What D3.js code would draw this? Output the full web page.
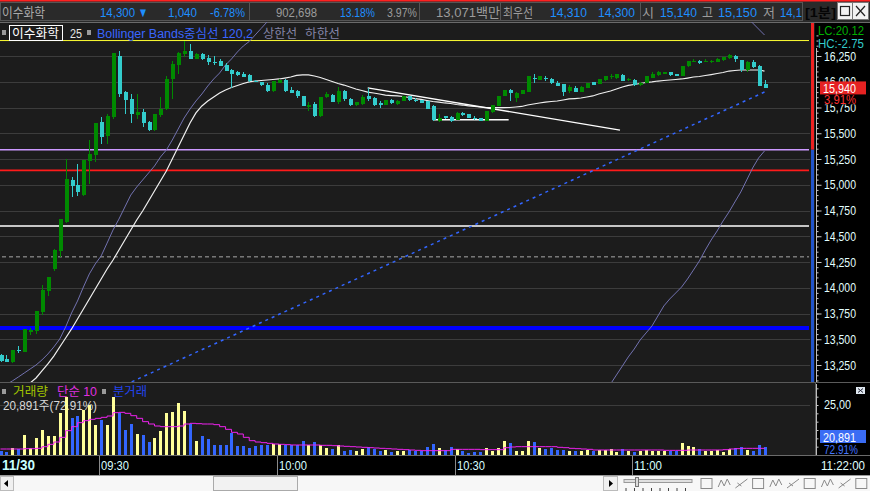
<!DOCTYPE html>
<html>
<head>
<meta charset="utf-8">
<script src="https://cdn.jsdelivr.net/npm/d3@7"></script>
<style>
  body { margin: 0; background: #1c1c1c; overflow: hidden; }
  svg { display: block; }
  text { font-family: "Liberation Sans", "Noto Sans CJK KR", sans-serif; }
</style>
</head>
<body>
<div id="chart"></div>
<script>
// ---- data (1-minute candles, 11/30 09:13 .. 11:22) ----
const opens = [13350,13310,13280,13400,13380,13570,13580,13760,13970,14180,
  14360,14640,15050,15000,14900,15230,15290,15610,15470,15660,
  16250,15900,15830,15680,15710,15610,15530,15680,15740,16030,
  16160,16270,16300,16220,16270,16230,16190,16200,16160,16110,
  16090,16080,16070,16010,16000,15970,15910,15990,16020,15920,
  15910,15860,15760,15780,15670,15850,15870,15800,15910,15830,
  15770,15780,15860,15840,15790,15770,15820,15780,15810,15860,
  15820,15820,15810,15760,15620,15670,15660,15630,15700,15690,
  15650,15650,15620,15710,15760,15860,15920,15840,15880,15900,
  16040,16020,16040,16030,15990,15980,15910,15940,15900,15940,
  16000,15980,16020,16050,16040,16070,16020,16020,15970,15990,
  16040,16070,16080,16090,16080,16060,16150,16190,16200,16190,
  16190,16190,16210,16230,16250,16210,16110,16190,16150,15980];
const highs = [13360,13350,13400,13430,13600,13610,13770,14030,14100,14380,
  14670,15250,15080,15200,15240,15430,15600,15660,15690,16280,
  16300,15910,15880,15880,15740,15620,15690,15850,16060,16200,
  16290,16400,16370,16280,16280,16260,16250,16220,16180,16120,
  16100,16090,16080,16020,16000,15990,16010,16030,16030,15950,
  15920,15860,15800,15800,15850,15900,15880,15950,15920,15840,
  15800,15870,15940,15850,15810,15820,15830,15820,15860,15860,
  15840,15820,15810,15770,15690,15670,15670,15710,15710,15690,
  15670,15650,15720,15770,15860,15920,15930,15900,15920,16060,
  16080,16060,16060,16040,16010,15980,15970,15960,15960,15990,
  16000,16030,16060,16080,16080,16080,16040,16030,16000,16060,
  16090,16100,16090,16090,16080,16150,16200,16220,16210,16220,
  16210,16230,16240,16270,16260,16210,16200,16210,16160,16020];
const lows = [13280,13280,13270,13370,13380,13540,13550,13740,13920,14160,
  14300,14630,14880,14890,14890,15010,15220,15400,15400,15640,
  15850,15690,15600,15640,15560,15520,15520,15660,15730,15830,
  16080,16240,16220,16220,16210,16160,16160,16150,16100,15940,
  16060,16050,16000,16000,15960,15900,15900,15990,15900,15890,
  15840,15760,15720,15660,15660,15840,15800,15780,15810,15760,
  15760,15770,15810,15760,15750,15770,15780,15770,15810,15810,
  15800,15790,15740,15620,15610,15640,15610,15630,15670,15650,
  15630,15620,15620,15700,15760,15860,15810,15800,15880,15900,
  15990,16020,16010,15980,15960,15860,15890,15900,15900,15940,
  15970,15980,16010,16030,16030,16010,16010,15960,15960,15990,
  16040,16060,16080,16060,16060,16060,16140,16190,16170,16190,
  16180,16190,16200,16220,16190,16090,16090,16130,15960,15940];
const closes = [13290,13280,13400,13390,13600,13590,13770,13980,14100,14370,
  14670,15060,14990,14930,15240,15300,15600,15460,15670,16280,
  15880,15820,15690,15710,15600,15530,15690,15740,16030,16170,
  16280,16300,16220,16270,16220,16190,16180,16150,16100,16080,
  16070,16050,16010,16000,15970,15910,16010,16020,15910,15890,
  15860,15760,15770,15670,15850,15880,15800,15910,15830,15770,
  15800,15850,15830,15770,15780,15820,15790,15810,15860,15820,
  15810,15790,15740,15630,15650,15650,15620,15700,15680,15650,
  15640,15620,15720,15770,15860,15920,15890,15890,15920,16060,
  16030,16060,16030,15990,15960,15900,15950,15900,15950,15990,
  15970,16030,16060,16060,16080,16010,16030,15970,15990,16060,
  16080,16090,16090,16070,16060,16150,16200,16200,16180,16200,
  16200,16220,16240,16260,16220,16110,16190,16140,15960,15940];
const volumes = [2000,1650,3350,2850,10000,3650,8350,12500,9500,9500,
  21150,28850,18350,19500,22500,25000,15000,17500,15000,29150,
  21150,12500,15500,10500,10000,6650,8350,12000,21150,21650,
  25850,22150,15500,7150,9500,7850,5000,5000,5000,11150,
  4500,4500,3350,4500,5000,5000,5500,5500,5000,5000,
  5000,7000,5000,6500,5000,3650,3150,5000,2150,2500,
  2000,3000,3850,2850,2000,2500,1650,2000,2000,2500,
  2000,2000,4150,5500,3500,2500,4150,3000,2150,1150,
  1500,1500,3350,2150,3500,7000,6150,2150,2150,7000,
  6500,3350,3150,3500,2500,2500,1850,2150,2150,2500,
  2150,2500,2500,3000,1650,3000,2150,1650,1850,2500,
  2150,2150,1850,2150,1850,6150,4650,4000,2850,2150,
  2150,2500,1500,3000,3500,4000,2500,2000,5150,4000];
// 단순 10 (volume moving average) as drawn
const volMA10 = [3000,3000,3000,3000,3170,3170,3330,4170,5330,6500,
  8830,12170,14170,16170,17170,17830,18330,18830,19500,21170,
  21330,20830,19670,18330,16670,15500,14500,14170,14170,14170,
  14500,15500,15830,15670,15500,15500,15170,14170,12830,11330,
  10500,8830,7170,6500,6170,5830,5500,5330,5170,5000,
  5000,5000,5000,5000,4830,4830,4670,4500,4330,4170,
  4000,3830,3670,3500,3330,3170,3000,2830,2670,2500,
  2330,2170,2170,2170,2170,2170,2830,2830,2830,2830,
  2830,2670,2670,2670,2670,3670,4000,4170,4170,4170,
  4170,4170,4170,4170,3830,3670,3330,3170,3000,2830,
  2500,2500,2500,2500,2500,2500,2500,2500,2500,2500,
  2500,2500,2330,2330,2330,2330,2500,2500,2500,2500,
  2500,2500,2670,3000,3170,3330,3330,3330,3330,3500];
// Bollinger Bands 120,2 as drawn (parts outside the view are clipped)
const bbMid = [12900,12940,12980,13010,13045,13075,13124,13192,13260,13337,
  13425,13512,13600,13697,13794,13891,13988,14085,14182,14269,
  14366,14464,14561,14658,14745,14842,14939,15036,15133,15250,
  15366,15483,15600,15697,15765,15813,15852,15891,15920,15944,
  15964,15983,15998,16007,16012,16017,16022,16027,16036,16046,
  16061,16066,16066,16056,16041,16022,16002,15983,15968,15949,
  15930,15915,15900,15891,15881,15871,15866,15862,15857,15847,
  15837,15828,15818,15808,15803,15794,15789,15779,15774,15765,
  15760,15755,15750,15748,15748,15748,15750,15755,15760,15774,
  15784,15794,15803,15808,15813,15823,15833,15837,15842,15852,
  15862,15881,15896,15910,15930,15949,15964,15973,15983,15993,
  15998,16007,16012,16017,16022,16027,16036,16046,16051,16061,
  16070,16080,16090,16104,16109,16114,16114,16114,16114,16104];
const bbUpperLeft = [13020,13060,13095,13133,13172,13211,13250,13299,13357,13425,
  13502,13619,13755,13871,14007,14134,14231,14309,14434,14561,
  14667,14784,14900,14978,15046,15114,15182,15269,15337,15434,
  15541,15648,15735,15813,15881,15959,16027,16085,16163,16221,
  16289,16347,16391,16454,16517,16580,16643];          // index 0..46
const bbUpperRight = [16629,16570,16512,16454];       // index 126..129
const bbLower = [12978,13065,13153,13240,13328,13405,13493,13561,13629,13726,
  13823,13891,13949,14007,14085,14172,14260,14366,14464,14551,
  14648,14735,14833,14930,15046,15163,15260,15328];    // index 102..129

// horizontal reference prices: 고가, 전일종가, 시가, 기준, 현재가, 지지
const levels = [16400, 15340, 15140, 14600, 14300, 13610];
// user drawn lines [index, price]
const trendUp = [[20, 13030], [129, 15900]];
const trendDown = [[62, 15940], [104.6, 15530]];
const supportLine = [[73, 15630], [85.8, 15630]];

const priceTicks = [13250,13500,13750,14000,14250,14500,14750,15000,15250,15500,15750,16000,16250];
const timeTicks = ["09:30", "10:00", "10:30", "11:00"];
const startMinute = 9 * 60 + 13;
const dateLabel = "11/30", lastTime = "11:22:00";
const lastVolume = "20,891", lastVolPct = "72.91%", lastPct = "3.91%";

const header = [
  ["이수화학", 2, 43, "#a8a8a8"], ["14,300", 100, 35, "#1e8fff"], ["▼", 138, 10, "#1e8fff"],
  ["1,040", 168, 29, "#1e8fff"], ["-6.78%", 210, 35, "#1e8fff"], ["902,698", 276, 41, "#9c9c9c"],
  ["13.18%", 340, 35, "#1e8fff"], ["3.97%", 387, 30, "#9c9c9c"], ["13,071백만", 436, 64, "#9c9c9c"],
  ["최우선", 503, 30, "#9c9c9c"], ["14,310", 550, 37, "#1e8fff"], ["14,300", 598, 37, "#1e8fff"],
  ["시", 642, 12, "#9c9c9c"], ["15,140", 660, 37, "#1e8fff"], ["고", 702, 11, "#9c9c9c"],
  ["15,150", 718, 39, "#1e8fff"], ["저", 763, 12, "#9c9c9c"], ["14,1", 780, 22, "#1e8fff"]
];

// ---- layout ----
const W = 870, H = 491;
const svg = d3.select("#chart").append("svg").attr("width", W).attr("height", H);

const x = d3.scaleLinear().domain([0, opens.length - 1]).range([0.5, 764.5]);
const y = d3.scaleLinear().domain([13250, 16250]).range([365, 56]);
const yv = d3.scaleLinear().domain([0, 25000]).range([455, 405]);

function label(g, px, py, s, fill, size, len, weight) {
  const t = g.append("text").attr("x", px).attr("y", py).text(s)
    .attr("fill", fill).style("font-size", size + "px");
  if (len) t.attr("textLength", len).attr("lengthAdjust", "spacingAndGlyphs");
  if (weight) t.style("font-weight", weight);
  return t;
}
function hline(g, x1, x2, py, stroke, w) {
  return g.append("line").attr("x1", x1).attr("x2", x2).attr("y1", py).attr("y2", py)
    .attr("stroke", stroke).attr("stroke-width", w || 1);
}

// backgrounds
svg.append("rect").attr("width", W).attr("height", H).attr("fill", "#1c1c1c");
svg.append("rect").attr("x", 815).attr("y", 22).attr("width", 55).attr("height", 434).attr("fill", "#000");

const defs = svg.append("defs");
defs.append("clipPath").attr("id", "clipP").append("rect").attr("x", 0).attr("y", 22).attr("width", 809).attr("height", 360);
defs.append("clipPath").attr("id", "clipV").append("rect").attr("x", 0).attr("y", 384).attr("width", 809).attr("height", 71);
defs.append("clipPath").attr("id", "clipH").append("rect").attr("x", 0).attr("y", 0).attr("width", 803).attr("height", 22);

// ---- header ----
const hd = svg.append("g");
hd.append("rect").attr("width", W).attr("height", 22).attr("fill", "#2a2a2a");
hd.append("rect").attr("width", W).attr("height", 1.5).attr("fill", "#ff2020");
hd.append("rect").attr("x", 0.5).attr("y", 2.5).attr("width", 802).attr("height", 18)
  .attr("fill", "none").attr("stroke", "#555");
[249.5, 419.5, 500.5, 640.5].forEach(sx =>
  hd.append("line").attr("x1", sx).attr("x2", sx).attr("y1", 2.5).attr("y2", 20.5).attr("stroke", "#555"));
const hdText = hd.append("g").attr("clip-path", "url(#clipH)");
header.forEach(([s, px, len, c]) => label(hdText, px, 16.5, s, c, 13, len));
label(hd, 805, 16.5, "[1분]", "#050505", 13, 31, "bold");
hd.append("rect").attr("x", 837.5).attr("y", 2.5).attr("width", 15).attr("height", 17).attr("fill", "#f2f2f2").attr("stroke", "#777");
hd.append("rect").attr("x", 852.5).attr("y", 2.5).attr("width", 16).attr("height", 17).attr("fill", "#f2f2f2").attr("stroke", "#777");
hd.append("rect").attr("x", 840.5).attr("y", 6.5).attr("width", 9).attr("height", 9).attr("fill", "none").attr("stroke", "#222").attr("stroke-width", 1.2);
hd.append("path").attr("d", "M856,6 L865,16 M865,6 L856,16").attr("stroke", "#222").attr("stroke-width", 1.2);
hline(svg, 0, W, 22.5, "#6a6a6a");

// ---- price pane grid + levels ----
const grid = svg.append("g");
priceTicks.forEach(p => hline(grid, 0, 810, Math.round(y(p)) + 0.5, "#3c3c3c"));

const lv = svg.append("g").attr("clip-path", "url(#clipP)");
const levelStyle = [
  {c: "#ffff33", w: 1}, {c: "#cc99ff", w: 1.6}, {c: "#ff1a1a", w: 1.6},
  {c: "#ffffff", w: 1.6}, {c: "#a8a8a8", w: 1, dash: "4,3"}, {c: "#0000ff", w: 4}
];
levels.forEach((p, k) => {
  const l = hline(lv, 0, 809, y(p), levelStyle[k].c, levelStyle[k].w);
  if (levelStyle[k].dash) l.attr("stroke-dasharray", levelStyle[k].dash).attr("x1", 2);
});

// right red/blue range bar split at previous close
svg.append("rect").attr("x", 811).attr("y", 23).attr("width", 3).attr("height", y(levels[1]) - 23).attr("fill", "#ee2222");
svg.append("rect").attr("x", 811).attr("y", y(levels[1])).attr("width", 3).attr("height", 382 - y(levels[1])).attr("fill", "#2255cc");

// ---- legend (drawn under the lines) ----
const lg = svg.append("g");
lg.append("rect").attr("x", 2).attr("y", 30).attr("width", 4).attr("height", 5).attr("fill", "#9a9a9a");
lg.append("rect").attr("x", 9.5).attr("y", 25.5).attr("width", 53).attr("height", 15).attr("fill", "none").attr("stroke", "#fff");
label(lg, 12, 37.5, "이수화학", "#ffffff", 12.5, 47);
label(lg, 70, 37.5, "25", "#e6e6e6", 12.5, 12);
lg.append("rect").attr("x", 87).attr("y", 30).attr("width", 4).attr("height", 5).attr("fill", "#9a9a9a");
label(lg, 97, 37.5, "Bollinger Bands중심선 120,2", "#3a66ff", 12.5, 156);
label(lg, 263, 37.5, "상한선", "#8484a8", 12.5, 34);
label(lg, 305, 37.5, "하한선", "#8484a8", 12.5, 35);

// ---- overlays ----
const ov = svg.append("g").attr("clip-path", "url(#clipP)");
const line = d3.line().x(d => x(d[0])).y(d => y(d[1]));
const band = "#7272b0";
ov.append("path").attr("d", line(bbUpperLeft.map((v, i) => [i, v])))
  .attr("fill", "none").attr("stroke", band).attr("stroke-width", 1);
ov.append("path").attr("d", line(bbUpperRight.map((v, i) => [126 + i, v])))
  .attr("fill", "none").attr("stroke", band).attr("stroke-width", 1);
ov.append("path").attr("d", line(bbLower.map((v, i) => [102 + i, v])))
  .attr("fill", "none").attr("stroke", band).attr("stroke-width", 1);
ov.append("path").attr("d", line(bbMid.map((v, i) => [i, v])))
  .attr("fill", "none").attr("stroke", "#f0f0f0").attr("stroke-width", 1.2);
ov.append("path").attr("d", line(trendUp))
  .attr("fill", "none").attr("stroke", "#3366ff").attr("stroke-width", 1.5).attr("stroke-dasharray", "3,4");
ov.append("path").attr("d", line(trendDown)).attr("fill", "none").attr("stroke", "#ffffff").attr("stroke-width", 1.4);
ov.append("path").attr("d", line(supportLine)).attr("fill", "none").attr("stroke", "#ffffff").attr("stroke-width", 1.5);

// ---- candles ----
const candles = opens.map((o, i) => ({i, o, h: highs[i], l: lows[i], c: closes[i], v: volumes[i]}));
const up = "#008a00", down = "#33cccc";
const cg = ov.append("g").attr("shape-rendering", "crispEdges");
cg.selectAll("line").data(candles).join("line")
  .attr("x1", d => Math.round(x(d.i)) + 0.5).attr("x2", d => Math.round(x(d.i)) + 0.5)
  .attr("y1", d => y(d.h)).attr("y2", d => y(d.l))
  .attr("stroke", d => d.c >= d.o ? up : down);
cg.selectAll("rect").data(candles).join("rect")
  .attr("x", d => Math.round(x(d.i)) - 1)
  .attr("width", 3.5)
  .attr("y", d => y(Math.max(d.o, d.c)))
  .attr("height", d => Math.max(1.2, Math.abs(y(d.o) - y(d.c))))
  .attr("fill", d => d.c >= d.o ? up : down);

// ---- price axis ----
svg.append("line").attr("x1", 816.5).attr("x2", 816.5).attr("y1", 48).attr("y2", 382).attr("stroke", "#bdbdbd");
const minor = svg.append("g").attr("transform", "translate(816.5,0)")
  .call(d3.axisRight(y).tickValues(d3.range(13100, 16451, 50)).tickSize(2).tickFormat(""));
const major = svg.append("g").attr("transform", "translate(816.5,0)")
  .call(d3.axisRight(y).tickValues(priceTicks).tickSize(5).tickFormat(d3.format(",")));
[minor, major].forEach(g => {
  g.select(".domain").remove();
  g.selectAll(".tick line").attr("stroke", "#c8c8c8");
});
major.selectAll(".tick text").attr("fill", "#e2ffff").attr("x", 7.5)
  .style("font-size", "13px").attr("textLength", 32).attr("lengthAdjust", "spacingAndGlyphs");

label(svg, 818, 35, "LC:20.12", "#00b000", 12.5, 46);
label(svg, 818, 47.5, "HC:-2.75", "#33cccc", 12.5, 46);

// last price tag sits on top of the axis labels, like the terminal does
const lastY = y(closes[closes.length - 1]);
svg.append("rect").attr("x", 820).attr("y", lastY + 6.5).attr("width", 47).attr("height", 10).attr("fill", "#000");
svg.append("rect").attr("x", 820).attr("y", lastY - 6.5).attr("width", 46).attr("height", 13).attr("fill", "#e62222");
label(svg, 823, lastY + 5, d3.format(",")(closes[closes.length - 1]), "#ffffff", 13, 33);
label(svg, 824, lastY + 16, lastPct, "#ff3030", 12.5, 32);

// ---- volume pane ----
hline(svg, 0, W, 382.5, "#5a5a5a");
hline(svg, 0, 810, 405.5, "#3c3c3c");
const vl = svg.append("g");
vl.append("rect").attr("x", 2).attr("y", 389).attr("width", 4).attr("height", 5).attr("fill", "#9a9a9a");
label(vl, 13, 395.5, "거래량", "#a0c400", 12.5, 35);
label(vl, 57, 395.5, "단순 10", "#e030e0", 12.5, 40);
vl.append("rect").attr("x", 102).attr("y", 389).attr("width", 4).attr("height", 5).attr("fill", "#9a9a9a");
label(vl, 113, 395.5, "분거래", "#2244ee", 12.5, 34);
label(vl, 3, 409.5, "20,891주(72.91%)", "#d8d8d8", 12.5, 94);

const vg = svg.append("g").attr("clip-path", "url(#clipV)").attr("shape-rendering", "crispEdges");
vg.selectAll("rect").data(candles).join("rect")
  .attr("x", d => Math.round(x(d.i)) - 1).attr("width", 3)
  .attr("y", d => yv(d.v)).attr("height", d => yv(0) - yv(d.v))
  .attr("fill", d => d.c >= d.o ? "#ffff99" : "#3366ff");
svg.append("g").attr("clip-path", "url(#clipV)").append("path")
  .attr("d", d3.line().x((d, i) => x(i)).y(d => yv(d)).curve(d3.curveStepAfter)(volMA10))
  .attr("fill", "none").attr("stroke", "#ee22ee").attr("stroke-width", 1);

svg.append("line").attr("x1", 816.5).attr("x2", 816.5).attr("y1", 384).attr("y2", 455).attr("stroke", "#bdbdbd");
const vAxis = svg.append("g").attr("transform", "translate(816.5,0)")
  .call(d3.axisRight(yv).tickValues(d3.range(1, 9).map(k => k * 25000 / 6)).tickSize(2).tickFormat(""));
vAxis.select(".domain").remove();
vAxis.selectAll(".tick line").attr("stroke", "#c8c8c8");
label(svg, 824, 408.5, "25,00", "#e2ffff", 13, 27);
svg.append("rect").attr("x", 856).attr("y", 387).attr("width", 9).attr("height", 7).attr("fill", "#dfe8f0");
svg.append("path").attr("d", "M858,388.5 L863,392.5 M863,388.5 L858,392.5").attr("stroke", "#223").attr("stroke-width", 1);
svg.append("rect").attr("x", 820).attr("y", 430).attr("width", 46).attr("height", 13).attr("fill", "#3a6cf4");
label(svg, 823, 441.5, lastVolume, "#ffffff", 13, 33);
label(svg, 824, 454, lastVolPct, "#4477ff", 12.5, 34);
svg.append("line").attr("x1", 815.5).attr("x2", 815.5).attr("y1", 383).attr("y2", 475).attr("stroke", "#5a5a5a");

// ---- time axis ----
const ta = svg.append("g");
ta.append("rect").attr("x", 0).attr("y", 456).attr("width", W).attr("height", 19).attr("fill", "#000");
hline(ta, 0, W, 455.5, "#6a6a6a");
const fmt = m => d3.format("02")(Math.floor(m / 60)) + ":" + d3.format("02")(m % 60);
const times = opens.map((_, i) => fmt(startMinute + i));
timeTicks.forEach(t => {
  const sx = Math.round(x(times.indexOf(t)) - 2) + 0.5;
  ta.append("line").attr("x1", sx).attr("x2", sx).attr("y1", 456).attr("y2", 475).attr("stroke", "#8a8a8a");
  label(ta, sx + 1.5, 469.5, t, "#d8ffff", 13, 28);
});
label(ta, 2, 470, dateLabel, "#c8ffff", 14, 33, "bold");
label(ta, 821, 469.5, lastTime, "#e2ffff", 13, 44);

// ---- bottom scroll/tool bar ----
const tb = svg.append("g");
tb.append("rect").attr("x", 0).attr("y", 475).attr("width", W).attr("height", 16).attr("fill", "#f7f7f7");
hline(tb, 0, W, 475.5, "#9a9a9a");
tb.append("rect").attr("x", 0.5).attr("y", 476.5).attr("width", 13).attr("height", 14).attr("fill", "#f0f0f0").attr("stroke", "#bbb");
tb.append("path").attr("d", "M4,483.5 L8,480 L8,487 Z").attr("fill", "#000");
tb.append("rect").attr("x", 213.5).attr("y", 476.5).attr("width", 84).attr("height", 14).attr("fill", "#f2f2f2").attr("stroke", "#aaa");
tb.append("rect").attr("x", 603.5).attr("y", 476.5).attr("width", 14).attr("height", 14).attr("fill", "#f0f0f0").attr("stroke", "#bbb");
tb.append("path").attr("d", "M609,480 L613,483.5 L609,487 Z").attr("fill", "#000");
tb.append("rect").attr("x", 624).attr("y", 479.5).attr("width", 68).attr("height", 3).attr("fill", "#e0e0e0").attr("stroke", "#999");
tb.append("rect").attr("x", 635.5).attr("y", 477.5).attr("width", 3).attr("height", 9).attr("fill", "#ddd").attr("stroke", "#777");
d3.range(626, 692, 8.5).forEach(tx =>
  tb.append("line").attr("x1", tx).attr("x2", tx).attr("y1", 488).attr("y2", 491).attr("stroke", "#444"));
const icons = tb.append("g").attr("fill", "none").attr("stroke", "#8a8a8a").attr("stroke-width", 1);
d3.range(0, 10).forEach(k => {
  const ix = 701 + k * 17.2;
  if (k % 3 === 0) icons.append("rect").attr("x", ix).attr("y", 478.5).attr("width", 11).attr("height", 10);
  else if (k % 3 === 1) icons.append("path").attr("d", `M${ix},487 L${ix + 3},480 L${ix + 6},486 L${ix + 9},479 L${ix + 12},485`);
  else icons.append("path").attr("d", `M${ix},488 L${ix + 12},479 M${ix + 2},483 L${ix + 6},486`);
});
</script>
</body>
</html>
